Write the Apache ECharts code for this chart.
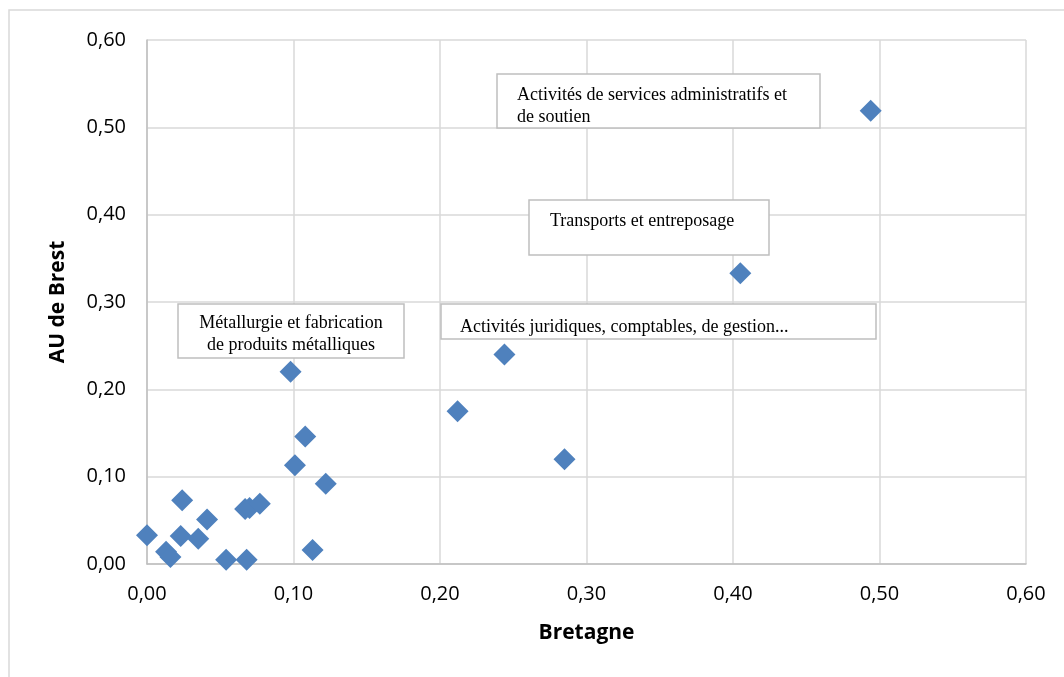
<!DOCTYPE html>
<html>
<head>
<meta charset="UTF-8">
<title>AU de Brest / Bretagne</title>
<script src="https://cdn.jsdelivr.net/npm/echarts@6/dist/echarts.min.js"></script>
<style>
  html, body { margin: 0; padding: 0; background: #fff; }
  #main { width: 1064px; height: 677px; }
</style>
</head>
<body>
<div id="main"></div>
<script>
// valeurs
var bretagne = [0.000, 0.013, 0.016, 0.024, 0.023, 0.035, 0.041, 0.054, 0.068, 0.067, 0.070, 0.077,
                0.098, 0.101, 0.108, 0.113, 0.122, 0.212, 0.244, 0.285, 0.405, 0.494];
var auBrest  = [0.033, 0.014, 0.008, 0.073, 0.032, 0.029, 0.051, 0.005, 0.005, 0.063, 0.064, 0.069,
                0.220, 0.113, 0.146, 0.016, 0.092, 0.175, 0.240, 0.120, 0.333, 0.519];

var points = bretagne.map(function (x, i) { return [x, auBrest[i]]; });

function virgule(v) { return v.toFixed(2).replace('.', ','); }

var labelFont = '18px "Liberation Serif"';
function box(x, y, w, h) {
    return { type: 'rect', z: 100, shape: { x: x, y: y, width: w, height: h },
             style: { fill: '#fff', stroke: '#bfbfbf', lineWidth: 1.5 } };
}
function txt(x, y, s, align) {
    return { type: 'text', z: 101,
             style: { x: x, y: y, text: s, font: labelFont, fill: '#000', lineHeight: 22,
                      textAlign: align || 'left', textVerticalAlign: 'middle' } };
}

var option = {
    backgroundColor: '#fff',
    animation: false,
    grid: { left: 147, top: 40, right: 38, bottom: 113 },
    xAxis: {
        type: 'value',
        min: 0, max: 0.6, interval: 0.1,
        name: 'Bretagne',
        nameLocation: 'middle',
        nameGap: 59,
        nameTextStyle: { fontFamily: 'Open Sans', fontWeight: 'bold', fontSize: 21, color: '#000' },
        axisLine: { lineStyle: { color: '#bfbfbf', width: 1.5 } },
        axisTick: { show: false },
        axisLabel: { formatter: virgule, fontFamily: 'Open Sans', fontSize: 20, color: '#000', margin: 20 },
        splitLine: { lineStyle: { color: '#d9d9d9', width: 1.5 } }
    },
    yAxis: {
        type: 'value',
        min: 0, max: 0.6, interval: 0.1,
        name: 'AU de Brest',
        nameLocation: 'middle',
        nameGap: 78,
        nameTextStyle: { fontFamily: 'Open Sans', fontWeight: 'bold', fontSize: 21, color: '#000' },
        axisLine: { show: true, lineStyle: { color: '#bfbfbf', width: 1.5 } },
        axisTick: { show: false },
        axisLabel: { formatter: virgule, fontFamily: 'Open Sans', fontSize: 20, color: '#000', margin: 21 },
        splitLine: { lineStyle: { color: '#d9d9d9', width: 1.5 } }
    },
    series: [{
        type: 'scatter',
        symbol: 'diamond',
        symbolSize: 22,
        itemStyle: { color: '#4f81bd', opacity: 1 },
        data: points
    }],
    graphic: [
        { type: 'rect', shape: { x: 9, y: 10, width: 1070, height: 700 }, style: { fill: 'none', stroke: '#d9d9d9', lineWidth: 1.5 }, z: -1 },
        box(178, 304, 226, 54),
        txt(291, 334, 'Métallurgie et fabrication\nde produits métalliques', 'center'),
        box(441, 304, 435, 35),
        txt(460, 327, 'Activités juridiques, comptables, de gestion...'),
        box(497, 74, 323, 54),
        txt(517, 106, 'Activités de services administratifs et\nde soutien'),
        box(529, 200, 240, 55),
        txt(550, 221, 'Transports et entreposage')
    ]
};

var myChart = echarts.init(document.getElementById('main'));
myChart.setOption(option);
</script>
</body>
</html>
